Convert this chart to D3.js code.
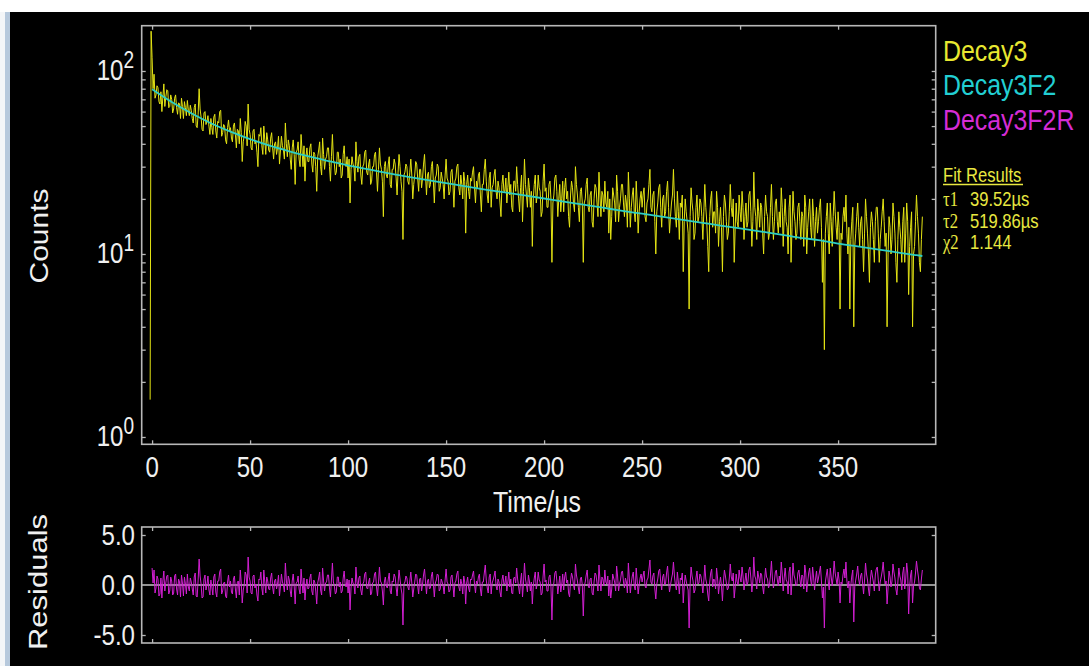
<!DOCTYPE html>
<html>
<head>
<meta charset="utf-8">
<script src="https://cdn.jsdelivr.net/npm/d3@7"></script>
<style>
  body { margin: 0; background: #000; }
  svg { display: block; }
  text { font-family: "Liberation Sans", Arial, sans-serif; fill: #f0f0f0; }
</style>
</head>
<body>
<svg id="chart" width="1089" height="666"></svg>
<script>
// ---- data ----
const xTicks = [0, 50, 100, 150, 200, 250, 300, 350];
const yMajor = [1, 10, 100];
const resTicks = [5, 0, -5];
const resLabels = ["5.0", "0.0", "-5.0"];

// Decay3 counts, one bin per 0.5 µs, first bin at t = -1 µs
const countsStart = -1, countsStep = 0.5;
const counts = [
  1.6, 165,
  118, 80, 96, 71, 74, 83, 81, 68, 66, 77, 60, 72, 85, 64, 72, 79, 78, 63, 64, 74,
  70, 59, 62, 71, 74, 63, 58, 67, 66, 55, 71, 64, 55, 68, 63, 57, 69, 61, 57, 65,
  61, 55, 52, 63, 66, 50, 49, 58, 80, 62, 56, 48, 47, 59, 60, 51, 53, 57, 50, 45,
  55, 49, 45, 56, 58, 47, 43, 53, 52, 60, 61, 44, 46, 51, 50, 42, 40, 49, 54, 47,
  49, 43, 41, 50, 52, 45, 38, 48, 47, 40, 55, 46, 32, 41, 44, 53, 50, 39, 66, 48,
  45, 38, 37, 47, 48, 40, 41, 36, 30, 45, 44, 49, 39, 35, 50, 42, 35, 46, 42, 37,
  36, 43, 46, 38, 33, 40, 41, 35, 38, 44, 31, 37, 44, 39, 37, 33, 52, 40, 34, 42,
  39, 33, 29, 38, 42, 35, 24, 36, 37, 41, 33, 30, 45, 37, 30, 39, 25, 34, 38, 32,
  32, 38, 40, 31, 28, 36, 35, 30, 22, 34, 37, 41, 30, 27, 43, 35, 29, 33, 34, 38,
  38, 30, 25, 34, 45, 33, 31, 27, 28, 36, 36, 30, 33, 26, 27, 35, 39, 31, 30, 34,
  26, 33, 19, 29, 34, 31, 30, 25, 41, 32, 28, 34, 35, 27, 24, 30, 31, 36, 37, 28,
  27, 31, 33, 24, 25, 30, 30, 35, 36, 28, 22, 29, 38, 31, 29, 25, 16, 30, 32, 27,
  26, 31, 34, 24, 23, 29, 29, 33, 31, 26, 21, 28, 35, 30, 25, 22, 12, 27, 28, 31,
  30, 25, 24, 28, 33, 27, 20, 24, 27, 32, 31, 26, 22, 29, 29, 23, 26, 31, 35, 27,
  21, 27, 28, 23, 24, 30, 32, 25, 19, 26, 27, 31, 30, 22, 23, 28, 26, 24, 20, 27,
  33, 26, 25, 21, 22, 28, 29, 24, 18, 25, 26, 30, 31, 23, 21, 27, 24, 20, 28, 25,
  13, 24, 27, 22, 20, 26, 25, 28, 30, 23, 19, 25, 23, 27, 28, 21, 17, 24, 24, 29,
  33, 25, 21, 19, 26, 28, 18, 23, 24, 27, 29, 22, 20, 25, 23, 19, 16, 24, 27, 22,
  22, 26, 19, 23, 28, 21, 24, 18, 17, 25, 25, 22, 30, 24, 20, 17, 23, 27, 15, 22,
  33, 24, 21, 18, 26, 23, 18, 22, 11, 20, 24, 27, 19, 21, 27, 23, 22, 16, 17, 25,
  31, 22, 23, 18, 18, 24, 25, 20, 9, 19, 21, 26, 27, 22, 16, 20, 24, 17, 20, 25,
  17, 23, 26, 20, 22, 16, 14, 21, 25, 23, 19, 17, 30, 24, 21, 18, 15, 22, 23, 19,
  9, 19, 20, 24, 26, 18, 17, 21, 22, 15, 14, 20, 24, 23, 19, 16, 28, 21, 16, 22,
  21, 17, 25, 19, 18, 22, 13, 20, 12, 16, 23, 21, 19, 15, 27, 22, 15, 18, 20, 24,
  24, 19, 16, 21, 19, 14, 28, 20, 14, 18, 21, 23, 17, 15, 25, 19, 13, 17, 20, 22,
  18, 21, 23, 16, 15, 19, 20, 24, 29, 18, 17, 21, 22, 15, 10, 17, 19, 23, 24, 18,
  14, 20, 21, 16, 17, 22, 25, 18, 13, 16, 19, 21, 29, 20, 16, 14, 22, 17, 12, 19,
  18, 21, 8, 15, 20, 17, 15, 13, 5, 16, 23, 19, 17, 12, 13, 18, 21, 15, 16, 20,
  19, 16, 12, 17, 24, 18, 15, 11, 8, 16, 20, 22, 14, 17, 17, 13, 22, 18, 11, 15,
  18, 14, 8, 16, 21, 19, 15, 12, 13, 17, 24, 18, 16, 20, 9, 14, 19, 15, 14, 21,
  17, 15, 22, 18, 12, 16, 19, 14, 15, 21, 22, 17, 11, 15, 28, 18, 16, 12, 20, 17,
  14, 19, 18, 13, 10, 16, 21, 17, 16, 12, 13, 18, 24, 16, 12, 15, 19, 20, 15, 13,
  17, 14, 23, 18, 11, 16, 20, 15, 14, 10, 18, 21, 9, 14, 22, 17, 15, 12, 13, 18,
  19, 15, 12, 17, 16, 11, 21, 18, 10, 14, 17, 20, 14, 12, 20, 16, 11, 15, 18, 13,
  15, 18, 20, 14, 7, 12, 3, 13, 16, 19, 13, 10, 19, 15, 11, 16, 22, 17, 14, 12,
  17, 14, 5, 13, 12, 16, 18, 15, 21, 13, 10, 14, 5, 12, 15, 18, 4, 11, 13, 16,
  19, 14, 11, 15, 16, 12, 8, 13, 20, 16, 13, 10, 7, 14, 17, 15, 12, 9, 15, 18,
  18, 13, 9, 12, 14, 17, 20, 15, 11, 13, 4, 10, 16, 14, 10, 12, 19, 16, 13, 9,
  7, 12, 17, 14, 12, 9, 15, 18, 9, 13, 19, 15, 6, 11, 14, 17, 4, 10, 11, 15,
  21, 16, 13, 9, 8, 12, 16
];

// Decay3F2 fit curve
const fitTime = [0, 10, 20, 30, 40, 50, 60, 70, 80, 90, 100, 110, 120, 130, 140, 150, 160, 170, 180, 190,
  200, 210, 220, 230, 240, 250, 260, 270, 280, 290, 300, 310, 320, 330, 340, 350, 360, 370, 380, 390, 393];
const fitCounts = [79.4, 67.6, 58.7, 51.8, 46.6, 42.4, 39.1, 36.4, 34.1, 32.2, 30.5, 29.1, 27.7, 26.5, 25.4,
  24.4, 23.4, 22.5, 21.7, 20.9, 20.1, 19.3, 18.6, 17.9, 17.2, 16.6, 16.0, 15.4, 14.85, 14.3, 13.8, 13.3,
  12.8, 12.3, 11.9, 11.4, 11.0, 10.6, 10.2, 9.85, 9.75];

// Decay3F2R residuals, one per 0.5 µs from t = 0
const resStart = 0, resStep = 0.5;
const residuals = [
  1.7, 0.2, 1.5, -0.8, -0.3, 0.9, 0.6, -1.1, -0.9, 0.7, -1.3, 0.4, 1.4, -0.6, 0.2, 0.9, 1.0, -0.9, -0.6, 0.8,
  0.4, -1.0, -0.8, 0.9, 1.1, -0.4, -1.0, 0.6, 0.3, -1.2, 1.0, 0.2, -1.1, 0.8, 0.1, -0.9, 1.1, -0.2, -0.6, 0.7,
  0.3, -0.4, -1.0, 0.8, 1.2, -1.1, -1.2, 0.5, 2.6, 0.9, 0.1, -1.3, -1.2, 0.6, 1.0, -0.5, 0, 0.9, -0.5, -1.0,
  0.5, -0.2, -1.0, 0.8, 1.1, -0.7, -1.2, 0.4, 0.4, 1.3, 1.6, -0.9, -0.6, 0.2, 0.3, -1.1, -1.3, 0.3, 1.0, -0.2,
  0.4, -0.7, -0.9, 0.6, 0.9, -0.4, -1.3, 0.3, 0.4, -1.0, 1.5, 0.2, -1.8, -0.5, 0, 1.3, 1.0, -0.8, 2.8, 0.8,
  0.4, -0.8, -0.9, 0.9, 1.0, -0.3, 0.1, -1.0, -1.6, 0.6, 0.5, 1.3, -0.3, -1.0, 1.5, 0.3, -0.8, 0.8, 0.4, -0.4,
  -0.5, 0.7, 1.2, -0.2, -0.9, 0.4, 0.6, -0.4, 0.1, 1.0, -1.1, -0.1, 1.1, 0.3, 0, -0.7, 2.2, 0.5, -0.5, 0.9,
  0.5, -0.6, -1.2, 0.4, 1.1, -0.1, -1.9, 0.2, 0.3, 0.9, -0.4, -0.9, 1.6, 0.3, -0.8, 0.7, -1.5, -0.1, 0.6, -0.4,
  -0.3, 0.7, 1.1, -0.6, -1.0, 0.5, 0.3, -0.6, -1.9, 0.2, 0.7, 1.3, -0.5, -1.0, 1.7, 0.4, -0.6, 0.2, 0.3, 1.0,
  1.0, -0.3, -1.2, 0.5, 2.2, 0.3, -0.1, -0.9, -0.7, 0.8, 0.8, -0.2, 0.3, -0.8, -0.6, 0.7, 1.4, 0.1, -0.2, 0.6,
  -0.8, 0.5, -2.5, -0.3, 0.7, 0.2, 0, -0.9, 1.8, 0.4, -0.3, 0.7, 0.9, -0.5, -1.0, 0.1, 0.3, 1.1, 1.3, -0.3,
  -0.4, 0.3, 0.7, -1.0, -0.8, 0.2, 0.3, 1.1, 1.3, -0.2, -1.1, 0.2, 1.8, 0.4, 0.2, -0.6, -2.0, 0.3, 0.8, -0.1,
  -0.3, 0.6, 1.2, -0.6, -0.9, 0.4, 0.3, 1.1, 0.8, -0.2, -1.1, 0.2, 1.5, 0.6, -0.3, -0.9, -4.0, 0.1, 0.3, 0.9,
  0.7, -0.2, -0.5, 0.4, 1.3, 0.2, -1.2, -0.4, 0.3, 1.1, 1.0, -0.1, -0.9, 0.6, 0.7, -0.6, 0.1, 1.0, 1.6, 0.3,
  -0.9, 0.4, 0.6, -0.4, -0.3, 0.9, 1.3, 0.1, -1.2, 0.2, 0.5, 1.1, 1.0, -0.6, -0.4, 0.6, 0.3, -0.1, -0.9, 0.5,
  1.6, 0.3, 0.1, -0.7, -0.5, 0.8, 1.0, 0, -1.2, 0.2, 0.4, 1.1, 1.4, -0.2, -0.6, 0.6, 0.1, -0.9, 0.9, 0.3,
  -1.9, 0.2, 0.8, -0.3, -0.7, 0.6, 0.5, 1.0, 1.4, 0.1, -0.8, 0.4, 0.1, 0.8, 1.1, -0.4, -1.1, 0.3, 0.3, 1.2,
  2.0, 0.5, -0.3, -0.8, 0.8, 1.1, -0.9, 0.2, 0.5, 0.9, 1.4, -0.1, -0.5, 0.6, 0.3, -0.7, -1.2, 0.5, 1.0, 0.1,
  0.1, 0.9, -0.6, 0.3, 1.3, -0.2, 0.6, -0.8, -0.9, 0.7, 0.8, 0.2, 1.7, 0.6, -0.2, -0.9, 0.4, 1.2, -1.2, 0.2,
  2.2, 0.6, 0, -0.7, 1.0, 0.4, -0.6, 0.3, -1.9, -0.1, 0.7, 1.3, -0.4, 0.1, 1.3, 0.5, 0.3, -1.0, -0.8, 0.9,
  2.1, 0.3, 0.5, -0.6, -0.6, 0.8, 1.0, -0.1, -3.5, -0.2, 0.2, 1.2, 1.4, 0.4, -0.9, 0, 0.9, -0.7, 0, 1.1,
  -0.5, 0.8, 1.3, 0.2, 0.5, -0.8, -1.2, 0.4, 1.2, 0.8, 0, -0.5, 2.1, 1.0, 0.4, -0.3, -0.9, 0.6, 0.8, 0,
  -3.1, -0.1, 0.3, 1.0, 1.5, -0.1, -0.3, 0.6, 0.7, -0.8, -1.0, 0.3, 1.2, 1.0, 0.2, -0.6, 2.0, 0.6, -0.6, 0.8,
  0.6, -0.1, 1.5, 0.3, 0.1, 0.9, -1.1, 0.5, -1.3, -0.4, 1.1, 0.7, 0.3, -0.6, 1.9, 0.9, -0.6, 0.1, 0.5, 1.3,
  1.4, 0.3, -0.3, 0.7, 0.3, -0.8, 2.2, 0.6, -0.8, 0.2, 0.9, 1.3, -0.1, -0.5, 1.7, 0.4, -0.9, 0, 0.7, 1.1,
  0.3, 0.9, 1.4, -0.1, -0.3, 0.5, 0.7, 1.6, 2.5, 0.3, 0.1, 0.9, 1.2, -0.4, -1.4, 0.1, 0.6, 1.4, 1.6, 0.3,
  -0.5, 0.8, 1.1, 0, 0.2, 1.2, 1.9, 0.4, -0.7, 0, 0.6, 1.1, 2.3, 0.9, 0, -0.5, 1.3, 0.3, -0.9, 0.7,
  0.5, 1.2, -1.8, -0.1, 1.0, 0.4, -0.1, -0.5, -4.3, 0, 1.8, 0.9, 0.4, -0.8, -0.5, 0.7, 1.4, 0.1, 0.2, 1.1,
  0.9, 0.2, -0.8, 0.4, 2.0, 0.6, 0.1, -0.9, -1.6, 0.3, 1.2, 1.6, -0.2, 0.6, 0.5, -0.4, 1.7, 0.7, -0.9, 0.1,
  0.8, -0.1, -1.6, 0.3, 1.5, 0.9, 0.2, -0.5, -0.3, 0.7, 2.1, 0.8, 0.4, 1.2, -1.3, -0.2, 1.1, 0.3, 0, 1.5,
  0.7, 0.3, 1.8, 0.9, -0.5, 0.4, 1.2, 0, 0.3, 1.5, 1.8, 0.7, -0.7, 0.3, 2.8, 0.9, 0.6, -0.4, 1.4, 0.8,
  0.2, 1.2, 1.0, -0.1, -0.9, 0.5, 1.7, 0.8, 0.6, -0.3, 0, 1.0, 2.4, 0.6, -0.3, 0.4, 1.3, 1.5, 0.5, -0.1,
  0.9, 0.2, 2.3, 1.1, -0.6, 0.7, 1.7, 0.5, 0.3, -0.9, 1.3, 1.8, -1.0, 0.3, 2.2, 1.0, 0.6, -0.1, 0.1, 1.2,
  1.5, 0.6, -0.2, 1.0, 0.9, -0.4, 2.0, 1.2, -0.7, 0.3, 1.2, 1.7, 0.5, -0.1, 1.8, 0.8, -0.5, 0.6, 1.4, 0.2,
  0.7, 1.3, 1.9, 0.4, -1.3, -0.2, -4.3, 0.3, 1.0, 1.6, 0.3, -0.5, 1.7, 0.8, -0.1, 0.9, 2.4, 1.2, 0.6, 0,
  1.3, 0.5, -1.8, 0.3, 0.1, 1.0, 1.6, 0.7, 2.3, 0.4, -0.3, 0.4, -1.8, 0, 0.9, 1.5, -3.7, -0.2, 0.5, 1.1,
  1.9, 0.6, 0, 0.9, 1.2, 0.2, -0.9, 0.5, 2.2, 1.1, 0.5, -0.4, -1.1, 0.6, 1.5, 0.9, 0.3, -0.6, 1.0, 1.6,
  1.8, 0.5, -0.6, 0.3, 0.8, 1.4, 2.3, 1.0, 0.1, 0.4, -1.9, -0.3, 1.4, 0.8, -0.2, 0.4, 2.1, 1.3, 0.7, -0.4,
  -1.0, 0.3, 1.7, 0.9, 0.5, -0.5, 1.2, 1.8, -0.4, 0.6, 2.2, 1.2, -2.9, -0.2, 1.0, 1.5, -1.8, -0.1, 0.3, 1.2,
  2.4, 1.5, 0.8, -0.3, -0.5, 0.6, 1.5
];

const legendNames = ["Decay3", "Decay3F2", "Decay3F2R"];
const legendColors = ["#e8e830", "#22cfd3", "#d52cd5"];
const fitNames = ["τ1", "τ2", "χ2"];
const fitResults = ["39.52µs", "519.86µs", "1.144"];

// ---- drawing ----
const svg = d3.select("#chart");
const axisColor = "#b8b8b8";
const squeeze = 0.83;   // the source screenshot is narrower than tall

// window frame bits
svg.append("rect").attr("x", 0).attr("y", 0).attr("width", 1089).attr("height", 12).attr("fill", "#fff");
svg.append("rect").attr("x", 0).attr("y", 12).attr("width", 5).attr("height", 654).attr("fill", "#f4f6f8");
svg.append("rect").attr("x", 5).attr("y", 12).attr("width", 5).attr("height", 654).attr("fill", "#b7c9dc");

const left = 141.7, right = 935.7;
const main = { top: 25.7, bottom: 444.3 };
const resi = { top: 527, bottom: 643 };

const x = d3.scaleLinear().domain([-5.3, 399.8]).range([left, right]);
const y = d3.scaleLog().domain([0.912, 176.8]).range([main.bottom, main.top]);
const yr = d3.scaleLinear().domain([-5.8, 5.8]).range([resi.bottom, resi.top]);

function styleAxis(g) {
  g.select(".domain").remove();
  g.selectAll("line").attr("stroke", axisColor).attr("stroke-width", 1.3);
}

// main panel ticks (inward on all four sides)
svg.append("g").attr("transform", `translate(0,${main.bottom})`)
  .call(d3.axisBottom(x).tickValues(xTicks).tickSize(-4).tickFormat("")).call(styleAxis);
svg.append("g").attr("transform", `translate(0,${main.top})`)
  .call(d3.axisTop(x).tickValues(xTicks).tickSize(-4).tickFormat("")).call(styleAxis);
const logTicks = y.ticks();
svg.append("g").attr("transform", `translate(${left},0)`)
  .call(d3.axisLeft(y).tickValues(logTicks).tickSize(-4).tickFormat("")).call(styleAxis);
svg.append("g").attr("transform", `translate(${right},0)`)
  .call(d3.axisRight(y).tickValues(logTicks).tickSize(-4).tickFormat("")).call(styleAxis);

// residual panel ticks
svg.append("g").attr("transform", `translate(0,${resi.bottom})`)
  .call(d3.axisBottom(x).tickValues(xTicks).tickSize(-4).tickFormat("")).call(styleAxis);
svg.append("g").attr("transform", `translate(0,${resi.top})`)
  .call(d3.axisTop(x).tickValues(xTicks).tickSize(-4).tickFormat("")).call(styleAxis);
svg.append("g").attr("transform", `translate(${left},0)`)
  .call(d3.axisLeft(yr).tickValues([5, -5]).tickSize(-4).tickFormat("")).call(styleAxis);
svg.append("g").attr("transform", `translate(${right},0)`)
  .call(d3.axisRight(yr).tickValues([5, -5]).tickSize(-4).tickFormat("")).call(styleAxis);

// zero line
svg.append("line")
  .attr("x1", left).attr("x2", right).attr("y1", yr(0)).attr("y2", yr(0))
  .attr("stroke", "#c4c4c4").attr("stroke-width", 1.6);

// data
const countLine = d3.line()
  .x((d, i) => x(countsStart + i * countsStep))
  .y(d => y(d));
svg.append("path").datum(counts)
  .attr("d", countLine)
  .attr("fill", "none").attr("stroke", "#e4e414").attr("stroke-width", 1);

const fitLine = d3.line()
  .x(d => x(d[0]))
  .y(d => y(d[1]))
  .curve(d3.curveMonotoneX);
svg.append("path").datum(fitTime.map((t, i) => [t, fitCounts[i]]))
  .attr("d", fitLine)
  .attr("fill", "none").attr("stroke", "#2ccfc4").attr("stroke-width", 1.8);

const resLine = d3.line()
  .x((d, i) => x(resStart + i * resStep))
  .y(d => yr(d));
svg.append("path").datum(residuals)
  .attr("d", resLine)
  .attr("fill", "none").attr("stroke", "#d21fd2").attr("stroke-width", 1);

// frames
[main, resi].forEach(p => {
  svg.append("rect")
    .attr("x", left).attr("y", p.top)
    .attr("width", right - left).attr("height", p.bottom - p.top)
    .attr("fill", "none").attr("stroke", axisColor).attr("stroke-width", 1.6);
});

// tick labels
svg.selectAll(".xlab").data(xTicks).enter().append("text")
  .attr("transform", d => `translate(${x(d)},477) scale(${squeeze},1)`)
  .attr("text-anchor", "middle").attr("font-size", 29)
  .text(d => d);

const ylab = svg.selectAll(".ylab").data(yMajor).enter().append("text")
  .attr("transform", d => `translate(134,${y(d) + 9}) scale(${squeeze},1)`)
  .attr("text-anchor", "end").attr("font-size", 29);
ylab.append("tspan").text("10");
ylab.append("tspan").attr("dy", -12).attr("font-size", 23).text(d => Math.round(Math.log10(d)));

svg.selectAll(".rlab").data(resTicks).enter().append("text")
  .attr("transform", d => `translate(135,${yr(d) + 10}) scale(${squeeze},1)`)
  .attr("text-anchor", "end").attr("font-size", 29)
  .text((d, i) => resLabels[i]);

// axis titles
svg.append("text").attr("transform", `translate(537,512) scale(${squeeze},1)`)
  .attr("text-anchor", "middle").attr("font-size", 30).text("Time/µs");
svg.append("text").attr("transform", `translate(48,236) scale(${squeeze},1) rotate(-90)`)
  .attr("text-anchor", "middle").attr("font-size", 30).text("Counts");
svg.append("text").attr("transform", `translate(47,582) scale(${squeeze},1) rotate(-90)`)
  .attr("text-anchor", "middle").attr("font-size", 31).text("Residuals");

// legend
svg.selectAll(".leg").data(legendNames).enter().append("text")
  .attr("transform", (d, i) => `translate(943,${[61, 95, 130][i]}) scale(${squeeze},1)`)
  .attr("font-size", 30)
  .style("fill", (d, i) => legendColors[i])
  .text(d => d);

svg.append("text").attr("transform", `translate(943,182) scale(${squeeze},1)`)
  .attr("font-size", 20).style("fill", "#e8e840").text("Fit Results");
svg.append("line").attr("x1", 943).attr("x2", 1023).attr("y1", 184.5).attr("y2", 184.5)
  .attr("stroke", "#e8e840").attr("stroke-width", 1.3);

const rowY = [206, 228, 249];
const rows = svg.selectAll(".fit").data(fitNames).enter().append("g");
rows.append("text")
  .attr("transform", (d, i) => `translate(943,${rowY[i]}) scale(${squeeze},1)`)
  .attr("font-size", 20)
  .style("font-family", "'Liberation Serif', 'DejaVu Serif', serif")
  .style("fill", "#e8e840")
  .text(d => d);
rows.append("text")
  .attr("transform", (d, i) => `translate(970,${rowY[i]}) scale(${squeeze},1)`)
  .attr("font-size", 20).style("fill", "#e8e840")
  .text((d, i) => fitResults[i]);
</script>
</body>
</html>
